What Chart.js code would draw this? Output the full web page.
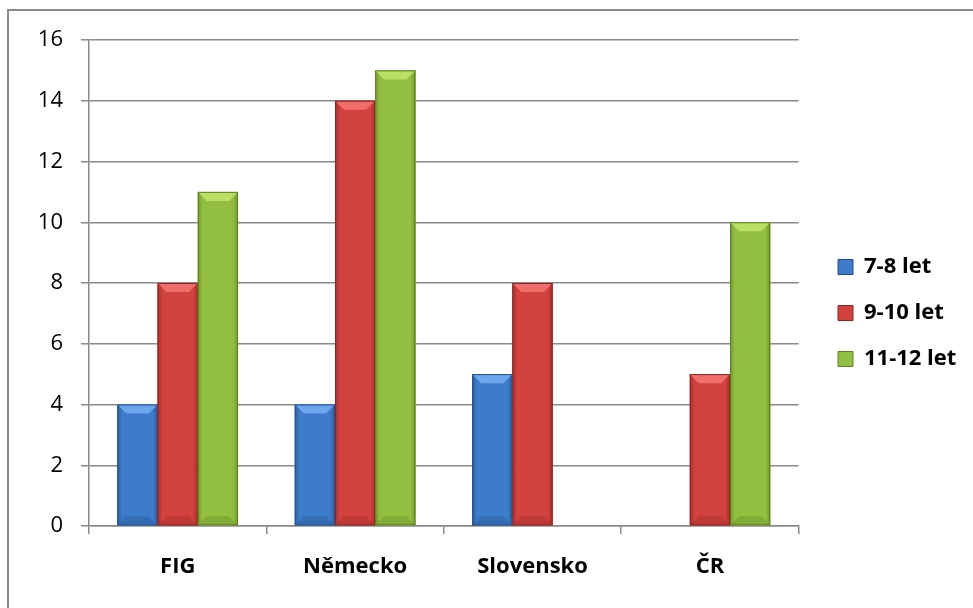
<!DOCTYPE html>
<html>
<head>
<meta charset="utf-8">
<script src="https://cdn.jsdelivr.net/npm/chart.js@4/dist/chart.umd.min.js"></script>
<style>
  html, body { margin: 0; padding: 0; background: #fff; overflow: hidden; }
  #frame { position: absolute; left: 7px; top: 9px; width: 1100px; height: 700px;
           border-left: 2px solid #8a8a8a; border-top: 2px solid #8a8a8a; }
  #wrap { position: absolute; left: 0; top: 0; width: 973px; height: 608px; }
</style>
</head>
<body>
<div id="frame"></div>
<div id="wrap"><canvas id="c" width="973" height="608"></canvas></div>
<script>
const categories = ['FIG', 'Německo', 'Slovensko', 'ČR'];
const seriesNames = ['7-8 let', '9-10 let', '11-12 let'];
const values78 = [4, 4, 5, null];
const values910 = [8, 14, 8, 5];
const values1112 = [11, 15, null, 10];
const yTicks = [0, 2, 4, 6, 8, 10, 12, 14, 16];

const palette = [
  { base: '#3d7bcb', light: '#6ea6ec', dark: '#2b5f9f', edge: '#23508a' },
  { base: '#d2423e', light: '#f06e69', dark: '#a92e2b', edge: '#8e2523' },
  { base: '#93bf41', light: '#b9e064', dark: '#6f9a2a', edge: '#5c7f22' }
];

const FONT = '"Open Sans", Lato, "Liberation Sans", sans-serif';

const bevelPlugin = {
  id: 'bevel',
  afterLayout(chart) {
    const l = chart.legend;
    if (!l) return;
    const dx = 838 - (l.left + l.options.labels.padding);
    l.left += dx; l.right += dx;
    l.top -= 11; l.bottom -= 11;
  },
  afterDatasetsDraw(chart) {
    const ctx = chart.ctx;
    chart.data.datasets.forEach((ds, di) => {
      const meta = chart.getDatasetMeta(di);
      const p = palette[di];
      meta.data.forEach((bar, i) => {
        if (ds.data[i] == null) return;
        const w = bar.width;
        const x0 = bar.x - w / 2, x1 = bar.x + w / 2;
        const y0 = bar.y, y1 = bar.base;
        const b = Math.min(9, (y1 - y0) / 3);
        ctx.save();
        const g = ctx.createLinearGradient(x0, 0, x1, 0);
        g.addColorStop(0, p.dark);
        g.addColorStop(0.12, p.base);
        g.addColorStop(0.88, p.base);
        g.addColorStop(1, p.dark);
        ctx.fillStyle = g;
        ctx.fillRect(x0, y0, w, y1 - y0);
        ctx.fillStyle = p.light;
        ctx.beginPath();
        ctx.moveTo(x0, y0); ctx.lineTo(x1, y0);
        ctx.lineTo(x1 - b, y0 + b); ctx.lineTo(x0 + b, y0 + b);
        ctx.closePath(); ctx.fill();
        ctx.fillStyle = p.dark;
        ctx.globalAlpha = 0.5;
        ctx.beginPath();
        ctx.moveTo(x0, y1); ctx.lineTo(x1, y1);
        ctx.lineTo(x1 - b, y1 - b); ctx.lineTo(x0 + b, y1 - b);
        ctx.closePath(); ctx.fill();
        ctx.globalAlpha = 1;
        ctx.strokeStyle = p.edge;
        ctx.lineWidth = 1;
        ctx.strokeRect(x0 + 0.5, y0 + 0.5, w - 1, y1 - y0 - 1);
        ctx.restore();
      });
    });
  }
};

const datasets = [values78, values910, values1112].map((vals, i) => ({
  label: seriesNames[i],
  data: vals,
  backgroundColor: palette[i].base,
  borderWidth: 0,
  categoryPercentage: 0.68,
  barPercentage: 1.0
}));

new Chart(document.getElementById('c'), {
  type: 'bar',
  data: { labels: categories, datasets },
  plugins: [bevelPlugin],
  options: {
    responsive: false,
    animation: false,
    layout: { padding: { left: 0, top: 40, right: 22, bottom: 0 } },
    plugins: {
      tooltip: { enabled: false },
      legend: {
        position: 'right',
        align: 'center',
        labels: {
          boxWidth: 15, boxHeight: 15, padding: 24,
          color: '#000',
          font: { family: FONT, size: 22, weight: 'bold' },
          generateLabels(chart) {
            return chart.data.datasets.map((ds, i) => ({
              text: ds.label, fillStyle: palette[i].base,
              strokeStyle: palette[i].edge, lineWidth: 1, datasetIndex: i
            }));
          }
        }
      }
    },
    scales: {
      x: {
        grid: { drawOnChartArea: false, offset: true, tickLength: 8, color: '#8a8a8a', lineWidth: 1.5 },
        border: { color: '#8a8a8a', width: 1.5 },
        ticks: { color: '#000', padding: 20, font: { family: FONT, size: 22, weight: 'bold' } },
        afterFit(scale) { scale.height = 82; }
      },
      y: {
        min: 0, max: 16,
        afterBuildTicks(scale) { scale.ticks = yTicks.map(v => ({ value: v })); },
        grid: { color: '#8a8a8a', lineWidth: 1.5, tickLength: 8 },
        border: { color: '#8a8a8a', width: 1.5 },
        ticks: { color: '#000', padding: 18, font: { family: FONT, size: 22 } },
        afterFit(scale) { scale.width = 89; }
      }
    }
  }
});
</script>
</body>
</html>
